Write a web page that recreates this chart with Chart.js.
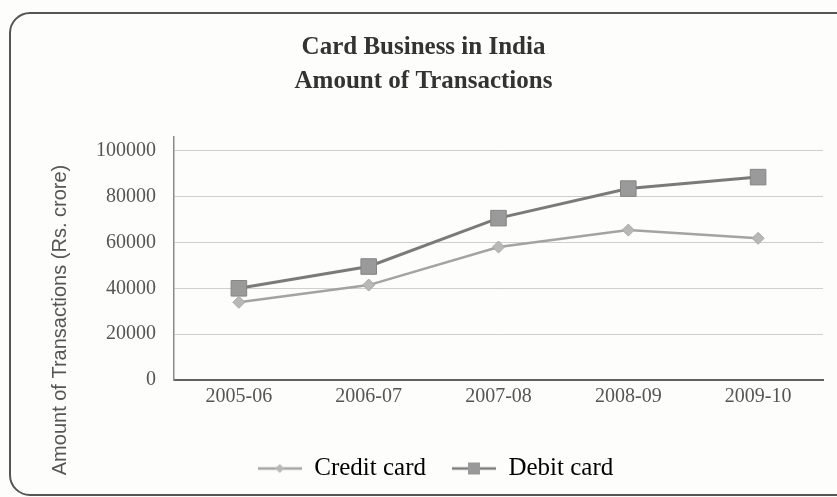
<!DOCTYPE html>
<html>
<head>
<meta charset="utf-8">
<title>Card Business in India</title>
<script src="https://cdn.jsdelivr.net/npm/chart.js@4.4.1/dist/chart.umd.min.js"></script>
<style>
  html, body { margin: 0; padding: 0; background: #fdfdfb; }
  #wrap { width: 837px; height: 497px; }
</style>
</head>
<body>
<div id="wrap"><canvas id="chart"></canvas></div>
<script>
const years = ['2005-06', '2006-07', '2007-08', '2008-09', '2009-10'];
const creditCard = [33900, 41400, 58000, 65400, 61800];
const debitCard = [40000, 49500, 70600, 83500, 88500];
const yTicks = [0, 20000, 40000, 60000, 80000, 100000];

const creditColor = '#a3a3a3';
const debitColor = '#7a7a7a';

// little "line with marker" images for the legend
function legendIcon(color, fill, shape) {
  const c = document.createElement('canvas');
  c.width = 44; c.height = 14;
  const g = c.getContext('2d');
  g.strokeStyle = color;
  g.lineWidth = 2.5;
  g.beginPath(); g.moveTo(0, 7); g.lineTo(44, 7); g.stroke();
  g.fillStyle = fill;
  if (shape === 'square') {
    g.fillRect(16, 1, 12, 12);
  } else {
    g.beginPath();
    g.moveTo(22, 2.5); g.lineTo(26.5, 7); g.lineTo(22, 11.5); g.lineTo(17.5, 7);
    g.closePath(); g.fill();
  }
  return c;
}
const creditIcon = legendIcon(creditColor, '#b8b8b8', 'diamond');
const debitIcon = legendIcon(debitColor, '#999999', 'square');

// frame around the whole chart, rotated y title, and a nudge for title/legend
const decor = {
  id: 'decor',
  afterLayout(chart) {
    chart.titleBlock.left += 12;
    chart.titleBlock.right += 12;
    chart.legend.left += 24;
    chart.legend.right += 24;
  },
  beforeDraw(chart) {
    const ctx = chart.ctx;
    ctx.save();
    ctx.fillStyle = '#fdfdfb';
    ctx.fillRect(0, 0, chart.width, chart.height);
    ctx.strokeStyle = '#555';
    ctx.lineWidth = 2;
    ctx.beginPath();
    ctx.moveTo(837, 13);
    ctx.lineTo(30, 13);
    ctx.arcTo(10, 13, 10, 33, 20);
    ctx.lineTo(10, 475);
    ctx.arcTo(10, 495, 30, 495, 20);
    ctx.lineTo(837, 495);
    ctx.stroke();
    ctx.restore();
  },
  afterDraw(chart) {
    const ctx = chart.ctx;
    ctx.save();
    ctx.translate(60, 320);
    ctx.rotate(-Math.PI / 2);
    ctx.font = '20px "Liberation Sans", Arial, sans-serif';
    ctx.fillStyle = '#555';
    ctx.textAlign = 'center';
    ctx.textBaseline = 'middle';
    ctx.fillText('Amount of Transactions (Rs. crore)', 0, 0);
    ctx.restore();
  }
};

const data = {
  labels: years,
  datasets: [{
    label: 'Credit card',
    data: creditCard,
    borderColor: creditColor,
    borderWidth: 2.5,
    backgroundColor: '#b8b8b8',
    pointStyle: 'rectRot',
    pointRadius: 6,
    pointBorderColor: '#a8a8a8',
    pointBorderWidth: 1,
    tension: 0
  }, {
    label: 'Debit card',
    data: debitCard,
    borderColor: debitColor,
    borderWidth: 3,
    backgroundColor: '#9a9a9a',
    pointStyle: 'rect',
    pointRadius: 11,
    pointBorderColor: '#858585',
    pointBorderWidth: 1,
    tension: 0
  }]
};

const serif = '"Liberation Serif", "Times New Roman", serif';

const config = {
  type: 'line',
  data: data,
  plugins: [decor],
  options: {
    responsive: true,
    maintainAspectRatio: false,
    animation: false,
    layout: { padding: { left: 0, right: 14, top: 0, bottom: 6 } },
    plugins: {
      tooltip: { enabled: false },
      title: {
        display: true,
        text: ['Card Business in India', 'Amount of Transactions'],
        color: '#333',
        font: { family: serif, size: 25, weight: 'bold', lineHeight: 1.36 },
        padding: { top: 31, bottom: 38 }
      },
      legend: {
        position: 'bottom',
        labels: {
          usePointStyle: true,
          pointStyleWidth: 44,
          padding: 26,
          color: '#333',
          font: { family: serif, size: 25 },
          generateLabels() {
            return [
              { text: 'Credit card', pointStyle: creditIcon, datasetIndex: 0, lineWidth: 0, strokeStyle: 'transparent', fillStyle: 'transparent' },
              { text: 'Debit card', pointStyle: debitIcon, datasetIndex: 1, lineWidth: 0, strokeStyle: 'transparent', fillStyle: 'transparent' }
            ];
          }
        }
      }
    },
    scales: {
      x: {
        offset: true,
        grid: { display: false, drawTicks: false },
        border: { color: '#606060', width: 2 },
        ticks: { color: '#555', font: { family: serif, size: 20 }, padding: 5 },
        afterFit(scale) { scale.height = 50; }
      },
      y: {
        // axis line runs a little past the top gridline
        min: 0,
        max: 106000,
        afterBuildTicks(scale) { scale.ticks = yTicks.map(v => ({ value: v })); },
        grid: { color: '#cfcfcf', lineWidth: 1, drawTicks: false },
        border: { color: '#8a8a8a', width: 1.5 },
        ticks: {
          color: '#555',
          font: { family: serif, size: 20 },
          padding: 18,
          callback: v => String(v)
        },
        afterFit(scale) { scale.width = 174; }
      }
    }
  }
};

var ctx = document.getElementById('chart');
var myChart = new Chart(ctx, config);
</script>
</body>
</html>
